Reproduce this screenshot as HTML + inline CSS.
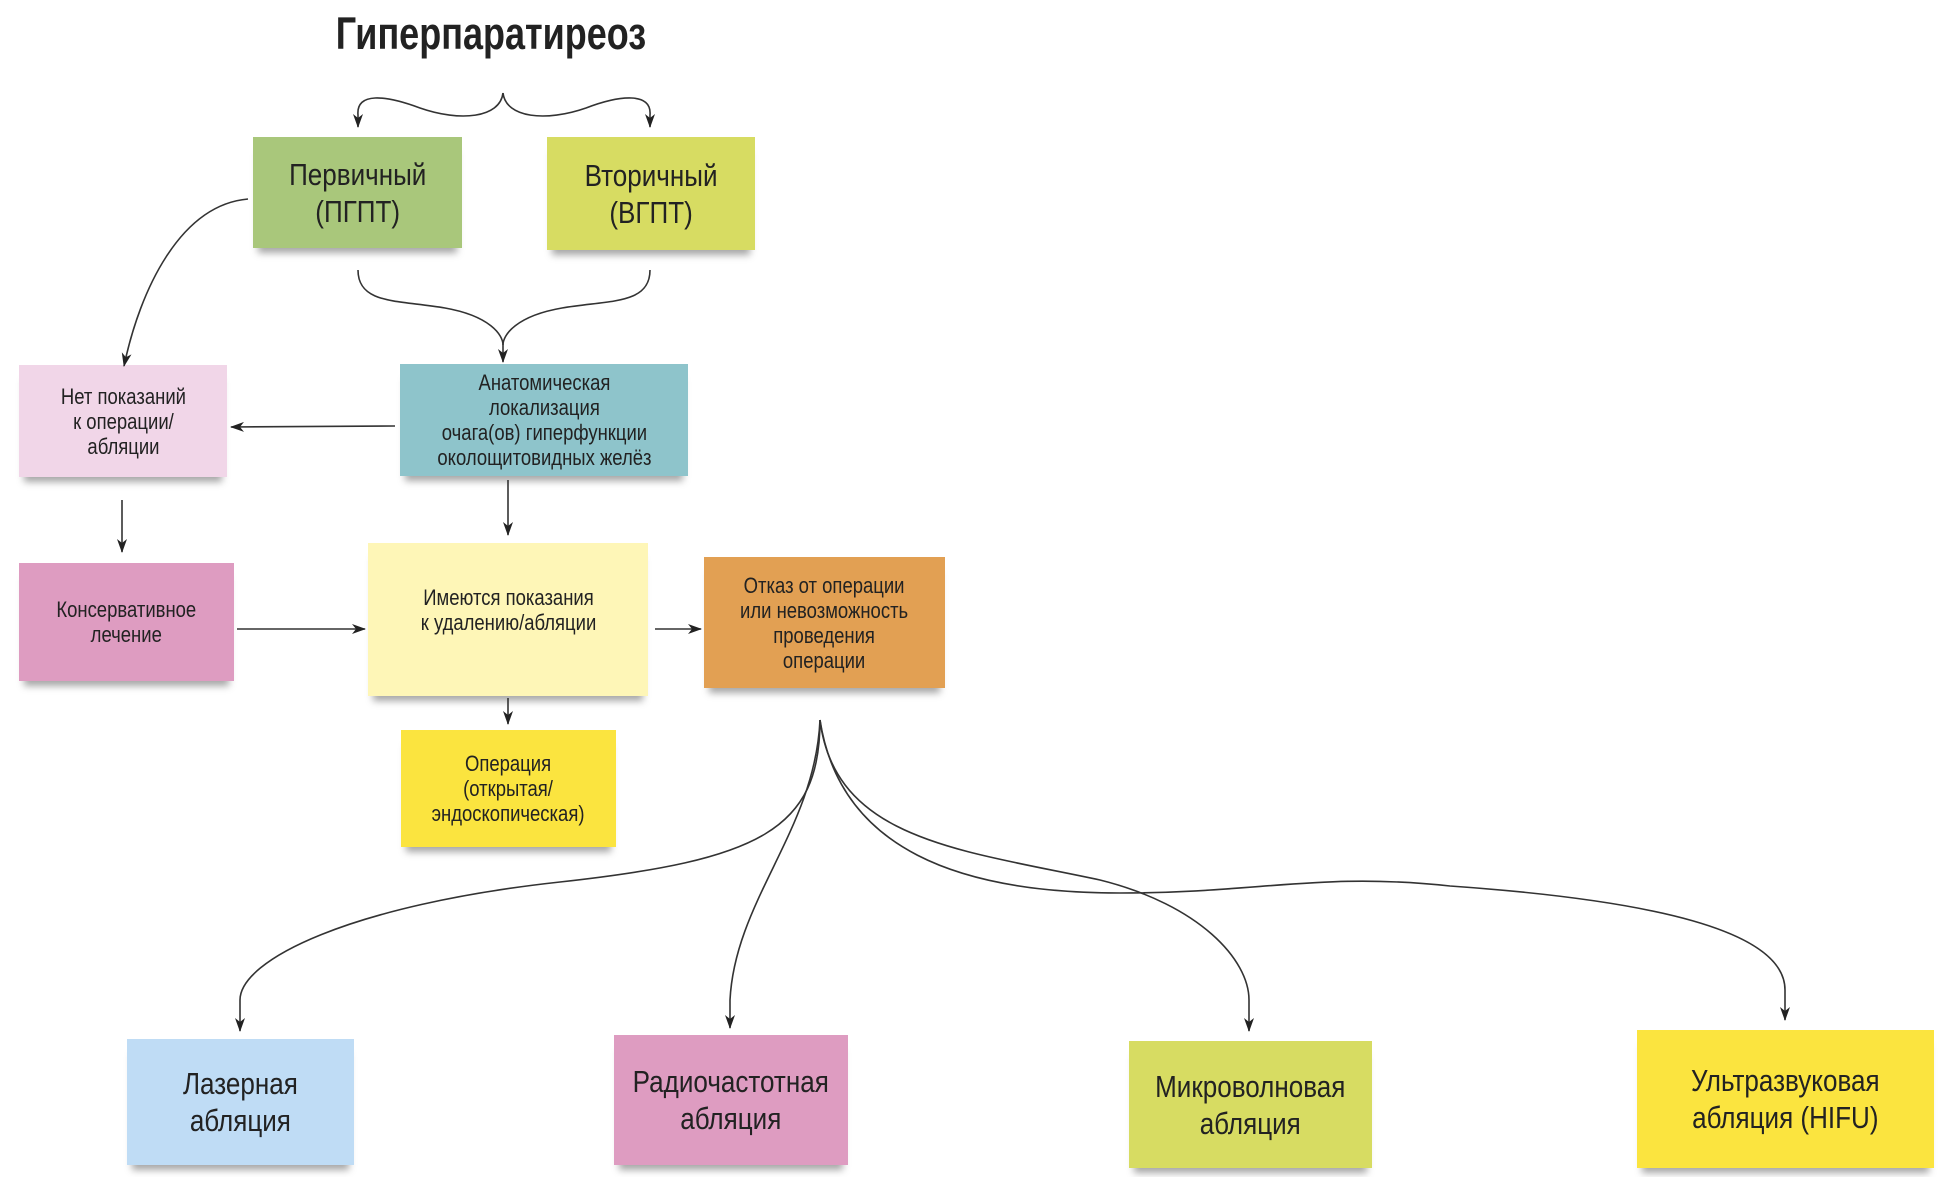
<!DOCTYPE html>
<html><head><meta charset="utf-8"><style>
html,body{margin:0;padding:0;background:#fff;}
body{width:1938px;height:1177px;position:relative;overflow:hidden;font-family:"Liberation Sans",sans-serif;color:#222;}
.b{position:absolute;display:flex;align-items:center;justify-content:center;text-align:center;box-shadow:0 10px 7px -5px rgba(0,0,0,.35);}
.b span{display:inline-block;transform:scaleX(0.84);white-space:nowrap;}
.s{font-size:22px;line-height:25px;}
.m{font-size:31px;line-height:37px;}
svg{position:absolute;left:0;top:0;}
</style></head><body>
<div style="position:absolute;left:240px;top:8px;width:502px;text-align:center;font-size:45px;font-weight:bold;color:#222;"><span style="display:inline-block;transform:scaleX(0.8);">Гиперпаратиреоз</span></div>

<div class="b m" style="left:253px;top:137px;width:209px;height:111px;background:#a9c77b;"><span>Первичный<br>(ПГПТ)</span></div>
<div class="b m" style="left:547px;top:137px;width:208px;height:113px;background:#d7dc62;"><span>Вторичный<br>(ВГПТ)</span></div>
<div class="b s" style="left:19px;top:365px;width:208px;height:112px;background:#f1d6e8;"><span>Нет показаний<br>к операции/<br>абляции</span></div>
<div class="b s" style="left:400px;top:364px;width:288px;height:112px;background:#8ec4cb;"><span>Анатомическая<br>локализация<br>очага(ов) гиперфункции<br>околощитовидных желёз</span></div>
<div class="b s" style="left:19px;top:563px;width:215px;height:118px;background:#de9cc1;"><span>Консервативное<br>лечение</span></div>
<div class="b s" style="left:368px;top:543px;width:280px;height:153px;background:#fef6b7;padding-bottom:20px;box-sizing:border-box;"><span>Имеются показания<br>к удалению/абляции</span></div>
<div class="b s" style="left:704px;top:557px;width:241px;height:131px;background:#e2a053;"><span>Отказ от операции<br>или невозможность<br>проведения<br>операции</span></div>
<div class="b s" style="left:401px;top:730px;width:215px;height:117px;background:#fbe43f;"><span>Операция<br>(открытая/<br>эндоскопическая)</span></div>
<div class="b m" style="left:127px;top:1039px;width:227px;height:126px;background:#bfdcf5;"><span>Лазерная<br>абляция</span></div>
<div class="b m" style="left:614px;top:1035px;width:234px;height:130px;background:#de9cc1;"><span>Радиочастотная<br>абляция</span></div>
<div class="b m" style="left:1129px;top:1041px;width:243px;height:127px;background:#d7dc62;"><span>Микроволновая<br>абляция</span></div>
<div class="b m" style="left:1637px;top:1030px;width:297px;height:138px;background:#fbe43f;"><span>Ультразвуковая<br>абляция (HIFU)</span></div>

<svg width="1938" height="1177" viewBox="0 0 1938 1177">
<defs>
<marker id="h" markerWidth="14" markerHeight="10" refX="13" refY="5" orient="auto" markerUnits="userSpaceOnUse" viewBox="0 0 14 10"><path d="M0,0 L14,5 L0,10 L4,5 Z" fill="#222"/></marker></defs>
<g fill="none" stroke="#333" stroke-width="1.6">
<path d="M503,93 C500,118 460,122 420,108 C385,95 356,92 358,115 L358,127" marker-end="url(#h)"/>
<path d="M503,93 C506,118 546,122 586,108 C620,95 652,92 650,115 L650,127" marker-end="url(#h)"/>
<path d="M358,270 C358,305 400,300 445,308 C490,316 503,335 503,345 L503,362" marker-end="url(#h)"/>
<path d="M650,270 C650,305 608,300 562,308 C516,316 503,335 503,345"/>
<path d="M248,199 C180,205 140,290 124,366" marker-end="url(#h)"/>
<path d="M395,426 L231,427" marker-end="url(#h)"/>
<path d="M122,500 L122,552" marker-end="url(#h)"/>
<path d="M508,480 L508,535" marker-end="url(#h)"/>
<path d="M237,629 L365,629" marker-end="url(#h)"/>
<path d="M655,629 L701,629" marker-end="url(#h)"/>
<path d="M508,698 L508,724" marker-end="url(#h)"/>
<path d="M820,720 C820,830 760,860 560,882 C350,905 240,960 240,1000 L240,1031" marker-end="url(#h)"/>
<path d="M820,720 C815,830 735,900 730,1000 L730,1028" marker-end="url(#h)"/>
<path d="M820,720 C835,840 960,850 1100,880 C1200,905 1249,960 1249,1000 L1249,1031" marker-end="url(#h)"/>
<path d="M820,720 C840,850 960,893 1120,893 C1260,893 1320,872 1450,886 C1650,900 1785,930 1785,990 L1785,1020" marker-end="url(#h)"/>
</g>
</svg>
</body></html>
